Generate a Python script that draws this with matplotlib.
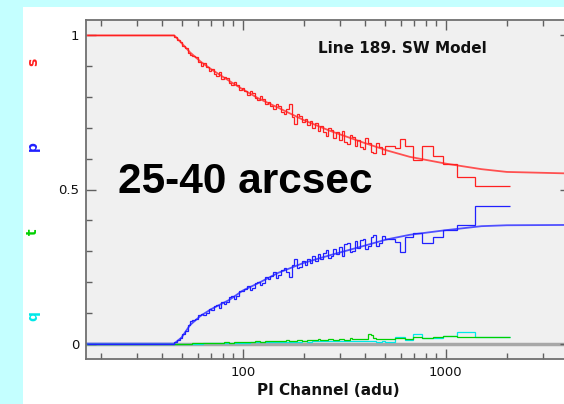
import numpy as np
import matplotlib
matplotlib.use('Agg')
import matplotlib.pyplot as plt
from matplotlib.patches import Rectangle
from matplotlib.ticker import FixedLocator, NullFormatter

# ---- data ----
# shared PI channel binning of the measured fractions
edges = [17,
         46, 47.5, 49, 50.5, 52, 53.5, 55, 56.5, 58, 60, 62, 64, 66, 68, 70,
         72, 74, 76, 78, 80.5,
         83, 85.5, 88, 90.5, 93, 96, 99, 102, 105, 108, 111, 114.5, 118, 121.5,
         125, 129, 133, 137, 141, 145.5,
         150, 154.5, 159, 164, 169, 174, 179, 184.5, 190, 196, 202, 208, 214,
         220.5, 227, 234, 241, 248, 256, 264,
         272, 280, 289, 298, 307, 316, 326, 336, 346, 356, 367, 378, 390, 402,
         414, 427, 440, 453, 467, 483,
         500, 560, 593, 627, 688, 760, 863, 966, 1133, 1389, 2066]

s_data = [1.0,
          0.995, 0.985, 0.978, 0.966, 0.960, 0.944, 0.936, 0.934, 0.930, 0.915,
          0.902, 0.910, 0.899, 0.884, 0.890, 0.876, 0.868, 0.880, 0.858, 0.864,
          0.861, 0.846, 0.838, 0.850, 0.840, 0.822, 0.829, 0.818, 0.806, 0.820,
          0.812, 0.796, 0.790, 0.803, 0.795, 0.776, 0.783, 0.772, 0.760, 0.778,
          0.770, 0.752, 0.745, 0.762, 0.778, 0.735, 0.712, 0.745, 0.738, 0.718,
          0.730, 0.708, 0.722, 0.700, 0.715, 0.690, 0.705, 0.688, 0.672, 0.700,
          0.692, 0.668, 0.685, 0.660, 0.690, 0.655, 0.648, 0.676, 0.670, 0.640,
          0.662, 0.638, 0.630, 0.668, 0.652, 0.622, 0.618, 0.650, 0.638, 0.615,
          0.64, 0.635, 0.665, 0.64, 0.595, 0.64, 0.61, 0.584, 0.54, 0.51]
p_data = [0.0,
          0.004, 0.013, 0.019, 0.031, 0.042, 0.060, 0.072, 0.078, 0.080, 0.092,
          0.097, 0.093, 0.100, 0.112, 0.108, 0.121, 0.125, 0.116, 0.134, 0.130,
          0.136, 0.150, 0.156, 0.146, 0.154, 0.172, 0.170, 0.178, 0.186, 0.174,
          0.182, 0.198, 0.200, 0.190, 0.198, 0.216, 0.208, 0.220, 0.232, 0.214,
          0.222, 0.240, 0.245, 0.232, 0.216, 0.256, 0.276, 0.244, 0.250, 0.268,
          0.256, 0.276, 0.262, 0.283, 0.268, 0.292, 0.275, 0.294, 0.305, 0.278,
          0.285, 0.308, 0.290, 0.315, 0.285, 0.322, 0.325, 0.298, 0.302, 0.332,
          0.310, 0.336, 0.340, 0.306, 0.318, 0.345, 0.352, 0.316, 0.328, 0.350,
          0.34, 0.33, 0.296, 0.345, 0.36, 0.325, 0.345, 0.367, 0.386, 0.445]
t_data = [0.0,
          0, 0, 0, 0, 0, 0, 0, 0.001, 0.001, 0.001,
          0.001, 0.002, 0.002, 0.001, 0.002, 0.003, 0.003, 0.002, 0.003, 0.004,
          0.004, 0.003, 0.003, 0.005, 0.005, 0.004, 0.004, 0.006, 0.006, 0.005,
          0.005, 0.007, 0.007, 0.006, 0.006, 0.008, 0.008, 0.007, 0.007, 0.009,
          0.009, 0.008, 0.008, 0.011, 0.010, 0.009, 0.009, 0.012, 0.011, 0.010,
          0.010, 0.013, 0.012, 0.011, 0.011, 0.014, 0.013, 0.012, 0.012, 0.015,
          0.014, 0.013, 0.013, 0.016, 0.015, 0.013, 0.013, 0.017, 0.016, 0.014,
          0.014, 0.016, 0.015, 0.014, 0.030, 0.028, 0.017, 0.016, 0.016, 0.015,
          0.016, 0.018, 0.018, 0.016, 0.02, 0.017, 0.022, 0.026, 0.022, 0.02]
q_data = [0.0,
          0, 0, 0, 0, 0, 0, 0, 0, 0, 0,
          0, 0.001, 0.001, 0.001, 0.001, 0.001, 0.001, 0.002, 0.002, 0.002,
          0.002, 0.002, 0.002, 0.003, 0.003, 0.003, 0.003, 0.003, 0.003, 0.004,
          0.004, 0.004, 0.004, 0.004, 0.004, 0.005, 0.005, 0.005, 0.005, 0.005,
          0.005, 0.006, 0.006, 0.005, 0.005, 0.006, 0.006, 0.006, 0.006, 0.007,
          0.007, 0.006, 0.006, 0.007, 0.007, 0.007, 0.007, 0.008, 0.008, 0.007,
          0.007, 0.008, 0.008, 0.008, 0.008, 0.009, 0.009, 0.008, 0.008, 0.009,
          0.009, 0.009, 0.009, 0.010, 0.010, 0.009, 0.009, 0.006, 0.006, 0.008,
          0.005, 0.02, 0.02, 0.012, 0.03, 0.019, 0.019, 0.026, 0.038, 0.02]

# smooth SW model curves
model_x = [17, 46, 50, 55, 62, 70, 86, 100, 120, 150, 200, 270, 390, 512, 665,
           1000, 1500, 2000, 4096]
s_model = [1.0, 1.0, 0.975, 0.945, 0.915, 0.89, 0.852, 0.825, 0.795, 0.765,
           0.725, 0.69, 0.653, 0.627, 0.606, 0.584, 0.566, 0.557, 0.552]
p_model = [0.0, 0.0, 0.02, 0.06, 0.09, 0.112, 0.142, 0.172, 0.197, 0.23,
           0.262, 0.287, 0.316, 0.338, 0.353, 0.368, 0.381, 0.384, 0.385]

series_names = ['s', 'p', 't', 'q']
series_colors = ['#ff2020', '#2020ff', '#00d000', '#00e8e8']

fig = plt.figure(figsize=(5.64, 4.04), dpi=100, facecolor='#c4ffff')
fig.add_artist(Rectangle((23/564, 0), 1, 397/404, transform=fig.transFigure,
                         facecolor='white', edgecolor='none', zorder=-10))

ax = fig.add_axes([86/564, 45/404, 484/564, 339/404])
ax.set_zorder(5)
ax.set_facecolor('#f0f0f0')
ax.set_xscale('log')
ax.set_xlim(16.9, 4096)
ax.set_ylim(-0.05, 1.05)

ax.axhline(0, color='#a8a8a8', lw=2.5, zorder=1)

ax.plot(model_x, s_model, color='#ff5050', lw=1.3, zorder=2)
ax.plot(model_x, p_model, color='#5050ff', lw=1.3, zorder=2)

for vals, col in zip([q_data, t_data, s_data, p_data],
                     [series_colors[3], series_colors[2],
                      series_colors[0], series_colors[1]]):
    ax.stairs(vals, edges, baseline=None, color=col, lw=0.9, zorder=3)

# ticks
ax.xaxis.set_major_locator(FixedLocator([100, 1000]))
ax.xaxis.set_minor_locator(FixedLocator([20, 30, 40, 50, 60, 70, 80, 90,
                                         200, 300, 400, 500, 600, 700, 800, 900,
                                         2000, 3000, 4000]))
ax.xaxis.set_minor_formatter(NullFormatter())
ax.set_xticklabels(['100', '1000'])
ax.set_yticks([0, 0.5, 1])
ax.set_yticklabels(['0', '0.5', '1'])
ax.set_yticks(np.arange(0.1, 1.0, 0.1), minor=True)
ax.tick_params(which='both', direction='in', top=True, right=True,
               colors='#606060', labelcolor='#111111', labelsize=9.5)
ax.tick_params(which='major', length=7, width=1, pad=5)
ax.tick_params(which='minor', length=4, width=1)
for sp in ax.spines.values():
    sp.set_color('#707070')
    sp.set_linewidth(1.3)

ax.set_xlabel('PI Channel (adu)', fontsize=11, fontweight='bold', labelpad=3,
              color='#111111')

ax.text(0.653, 0.917, 'Line 189. SW Model', transform=ax.transAxes,
        ha='center', va='center', fontsize=11, fontweight='bold',
        color='#111111')
ax.text(0.066, 0.49, '25-40 arcsec', transform=ax.transAxes, ha='left',
        va='baseline', fontsize=30.5, fontweight='bold',
        family='Liberation Sans', color='black')

# fraction labels on the left
label_y = [62, 146, 232, 316]
for name, col, yp in zip(series_names, series_colors, label_y):
    fig.text(33/564, 1 - yp/404, name, color=col, rotation=90,
             ha='center', va='center', fontsize=10, fontweight='bold')

fig.savefig('out.png', dpi=100, facecolor=fig.get_facecolor())
